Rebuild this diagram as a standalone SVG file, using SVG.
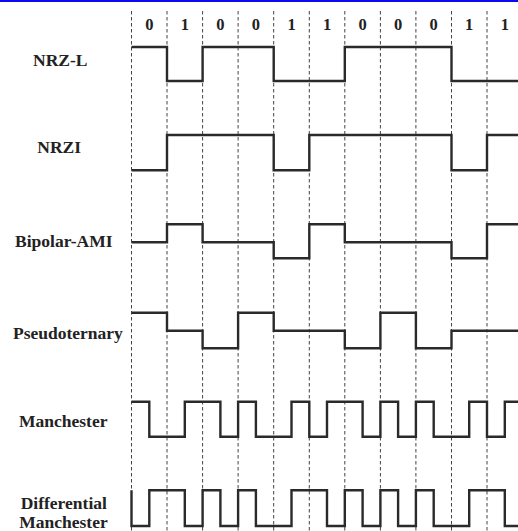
<svg xmlns="http://www.w3.org/2000/svg" width="518" height="531" viewBox="0 0 518 531">
<style>
.lbl{font-family:"Liberation Serif","Times New Roman",serif;font-weight:bold;font-size:17.5px;fill:#222}
.bit{font-family:"Liberation Serif","Times New Roman",serif;font-weight:bold;font-size:16.5px;fill:#222;text-anchor:middle}
.grid line{stroke:#444;stroke-width:1;stroke-dasharray:3.5 2.5}
.sig{fill:none;stroke:#2a2a2a;stroke-width:2.4;stroke-linejoin:miter;stroke-linecap:butt}
</style>
<rect x="0" y="0" width="518" height="531" fill="#fff"/>
<rect x="0" y="0" width="518" height="2" fill="#0a0aee"/>
<g id="grid" class="grid">
<line x1="131.5" y1="11" x2="131.5" y2="531"/>
<line x1="167" y1="11" x2="167" y2="531"/>
<line x1="202.6" y1="11" x2="202.6" y2="531"/>
<line x1="238.1" y1="11" x2="238.1" y2="531"/>
<line x1="273.7" y1="11" x2="273.7" y2="531"/>
<line x1="309.3" y1="11" x2="309.3" y2="531"/>
<line x1="344.8" y1="11" x2="344.8" y2="531"/>
<line x1="380.4" y1="11" x2="380.4" y2="531"/>
<line x1="415.9" y1="11" x2="415.9" y2="531"/>
<line x1="451.5" y1="11" x2="451.5" y2="531"/>
<line x1="487" y1="11" x2="487" y2="531"/>
</g>
<g id="bits">
<text class="bit" x="149.3" y="29.5">0</text>
<text class="bit" x="184.8" y="29.5">1</text>
<text class="bit" x="220.4" y="29.5">0</text>
<text class="bit" x="255.9" y="29.5">0</text>
<text class="bit" x="291.5" y="29.5">1</text>
<text class="bit" x="327" y="29.5">1</text>
<text class="bit" x="362.6" y="29.5">0</text>
<text class="bit" x="398.1" y="29.5">0</text>
<text class="bit" x="433.7" y="29.5">0</text>
<text class="bit" x="469.2" y="29.5">1</text>
<text class="bit" x="504.8" y="29.5">1</text>
</g>
<g id="nrzl">
<text class="lbl" x="33" y="66">NRZ-L</text>
<path class="sig" d="M131.5,47 H167 V81 H202.6 V47 H273.7 V81 H344.8 V47 H451.5 V81 H519"/>
</g>
<g id="nrzi">
<text class="lbl" x="37.3" y="153">NRZI</text>
<path class="sig" d="M131.5,170.3 H167 V135 H273.7 V170.3 H309.3 V135 H451.5 V170.3 H487 V135 H519"/>
</g>
<g id="ami">
<text class="lbl" x="15" y="247.3">Bipolar-AMI</text>
<path class="sig" d="M131.5,242.3 H167 V224.3 H202.6 V242.3 H273.7 V258.3 H309.3 V224.3 H344.8 V242.3 H451.5 V258.3 H487 V224.3 H519"/>
</g>
<g id="pseudoternary">
<text class="lbl" x="13" y="339.3">Pseudoternary</text>
<path class="sig" d="M131.5,312.7 H167 V330.7 H202.6 V348.3 H238.1 V312.7 H273.7 V330.7 H344.8 V348.3 H380.4 V312.7 H415.9 V348.3 H451.5 V330.7 H519"/>
</g>
<g id="manchester">
<text class="lbl" x="19" y="426.7">Manchester</text>
<path class="sig" d="M131.5,401.7 H149.3 V436.7 H184.8 V401.7 H220.4 V436.7 H238.1 V401.7 H255.9 V436.7 H291.5 V401.7 H309.3 V436.7 H327 V401.7 H362.6 V436.7 H380.4 V401.7 H398.1 V436.7 H415.9 V401.7 H433.7 V436.7 H469.2 V401.7 H487 V436.7 H504.8 V401.7 H519"/>
</g>
<g id="diffmanchester">
<text class="lbl" x="20.7" y="508.5">Differential</text>
<text class="lbl" x="19.3" y="527.5">Manchester</text>
<path class="sig" d="M131.5,490.3 V526 H149.3 V490.3 H184.8 V526 H202.6 V490.3 H220.4 V526 H238.1 V490.3 H255.9 V526 H291.5 V490.3 H327 V526 H344.8 V490.3 H362.6 V526 H380.4 V490.3 H398.1 V526 H415.9 V490.3 H433.7 V526 H469.2 V490.3 H504.8 V526 H519"/>
</g>
</svg>
